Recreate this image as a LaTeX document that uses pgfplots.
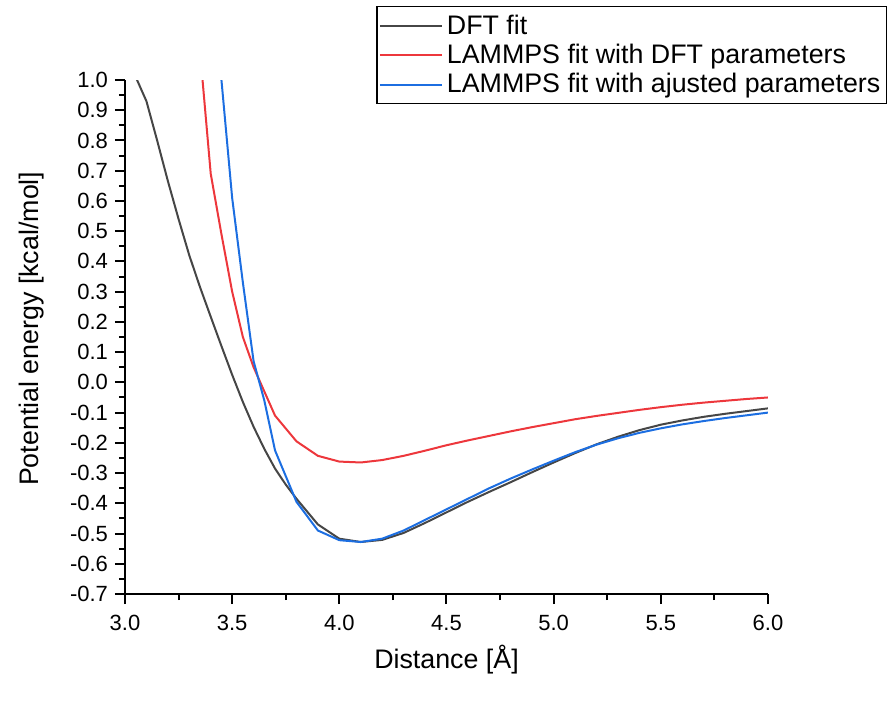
\documentclass[border=0pt]{standalone}
\usepackage{fontspec}
\setmainfont{Liberation Sans}
\usepackage{pgfplots}
\pgfplotsset{compat=1.18}
\definecolor{cblack}{RGB}{70,70,70}
\definecolor{cred}{RGB}{237,55,60}
\definecolor{cblue}{RGB}{28,110,225}
\begin{document}
\begin{tikzpicture}
\begin{axis}[
  name=ax,
  scale only axis,
  width=321.5pt, height=257pt,
  xmin=3, xmax=6, ymin=-0.7, ymax=1.0,
  axis x line*=bottom, axis y line*=left,
  axis line style={line width=1pt,-},
  tick style={line width=1pt,black},
  tick align=outside,
  major tick length=5pt, minor tick length=3pt,
  xtick={3.0,3.5,4.0,4.5,5.0,5.5,6.0},
  xticklabels={3.0,3.5,4.0,4.5,5.0,5.5,6.0},
  minor x tick num=1,
  ytick={-0.7,-0.6,-0.5,-0.4,-0.3,-0.2,-0.1,0,0.1,0.2,0.3,0.4,0.5,0.6,0.7,0.8,0.9,1.0},
  yticklabels={-0.7,-0.6,-0.5,-0.4,-0.3,-0.2,-0.1,0.0,0.1,0.2,0.3,0.4,0.5,0.6,0.7,0.8,0.9,1.0},
  minor y tick num=1,
  ticklabel style={font=\fontsize{11}{13}\selectfont},
  xticklabel style={yshift=-2pt},
  xlabel={Distance [Å]},
  ylabel={Potential energy [kcal/mol]},
  label style={font=\fontsize{13.4}{16}\selectfont},
  xlabel style={at={(axis description cs:0.5,-0.128)},anchor=center},
  ylabel style={at={(axis description cs:-0.145,0.516)},anchor=center},
  legend style={at={(1.185,1.144)},anchor=north east,
    font=\fontsize{13.4}{16}\selectfont, draw=black, line width=0.6pt,
    inner xsep=1pt, inner ysep=2pt, row sep=-0.5pt},
  legend cell align=left,
  legend image code/.code={\draw[#1,line width=1pt] (0pt,0pt) -- (31pt,0pt);},
  clip=true,
]
\addplot[cblack, line width=1pt] coordinates {
(3.0,1.09) (3.1,0.93) (3.15,0.80) (3.2,0.666) (3.25,0.54) (3.3,0.420) (3.35,0.315) (3.4,0.217) (3.45,0.12) (3.5,0.025)
(3.55,-0.065) (3.6,-0.147) (3.65,-0.22) (3.7,-0.285) (3.75,-0.338) (3.8,-0.385) (3.9,-0.470) (4.0,-0.517) (4.1,-0.528)
(4.2,-0.521) (4.3,-0.498) (4.4,-0.465) (4.5,-0.43) (4.6,-0.395) (4.7,-0.362)
(4.8,-0.330) (4.9,-0.297) (5.0,-0.265) (5.1,-0.234) (5.2,-0.205) (5.3,-0.180)
(5.4,-0.158) (5.5,-0.140) (5.6,-0.126) (5.7,-0.114) (5.8,-0.104) (5.9,-0.095) (6.0,-0.086)
};
\addlegendentry{DFT fit}
\addplot[cred, line width=1pt] coordinates {
(3.3,1.5) (3.4,0.69) (3.45,0.49) (3.5,0.30) (3.55,0.15) (3.6,0.05) (3.7,-0.11) (3.8,-0.195)
(3.9,-0.243) (4.0,-0.262) (4.1,-0.265) (4.2,-0.257) (4.3,-0.243) (4.4,-0.226)
(4.5,-0.208) (4.6,-0.192) (4.7,-0.177) (4.8,-0.162) (4.9,-0.148) (5.0,-0.135)
(5.1,-0.122) (5.2,-0.111) (5.3,-0.101) (5.4,-0.091) (5.5,-0.082) (5.6,-0.074)
(5.7,-0.067) (5.8,-0.061) (5.9,-0.055) (6.0,-0.05)
};
\addlegendentry{LAMMPS fit with DFT parameters}
\addplot[cblue, line width=1pt] coordinates {
(3.4,1.6) (3.45,1.0) (3.5,0.61) (3.55,0.33) (3.6,0.07) (3.65,-0.06) (3.7,-0.225)
(3.8,-0.395) (3.9,-0.49) (4.0,-0.522) (4.1,-0.528) (4.2,-0.517) (4.3,-0.49)
(4.4,-0.455) (4.5,-0.42) (4.6,-0.385) (4.7,-0.35) (4.8,-0.318) (4.9,-0.288)
(5.0,-0.259) (5.1,-0.231) (5.2,-0.206) (5.3,-0.185) (5.4,-0.167) (5.5,-0.152)
(5.6,-0.139) (5.7,-0.128) (5.8,-0.118) (5.9,-0.109) (6.0,-0.1)
};
\addlegendentry{LAMMPS fit with ajusted parameters}
\end{axis}
\pgfresetboundingbox
\path[use as bounding box] (ax.south west) ++(-62.5pt,-63pt) rectangle ++(448pt,360pt);
\end{tikzpicture}
\end{document}
